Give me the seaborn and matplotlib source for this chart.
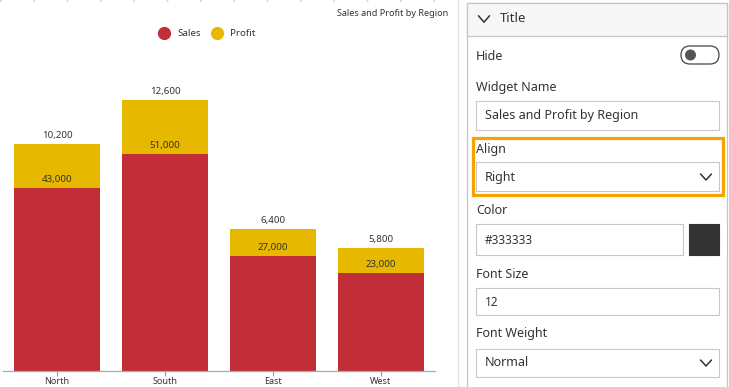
import numpy as np
import pandas as pd
import matplotlib.pyplot as plt
import matplotlib.patches as mpatches
from matplotlib.lines import Line2D
import seaborn as sns

# chart data
regions = ['North', 'South', 'East', 'West']
sales = [43000, 51000, 27000, 23000]
profit = [10200, 12600, 6400, 5800]

# settings panel texts
panel_title = 'Title'
widget_name = 'Sales and Profit by Region'
align_value = 'Right'
color_value = '#333333'
font_size_value = '12'
font_weight_value = 'Normal'

RED = '#C22E37'
YELLOW = '#E6B800'
TXT = '#333333'

sns.set_theme(style='white')
plt.rcParams['font.family'] = ['Noto Sans', 'DejaVu Sans']

df = pd.DataFrame({'region': regions, 'sales': sales, 'profit': profit})
df['total'] = df['sales'] + df['profit']

W, H = 729, 387
fig = plt.figure(figsize=(W / 100, H / 100), dpi=100)
fig.patch.set_facecolor('white')


def px(x0, y0, x1, y1):
    # pixel box (top-left origin) -> figure fraction rect
    return [x0 / W, 1 - y1 / H, (x1 - x0) / W, (y1 - y0) / H]


# --- chart ---
ax = fig.add_axes(px(3, 60, 435, 371))
sns.barplot(data=df, x='region', y='total', color=YELLOW, saturation=1,
            width=0.8, errorbar=None, linewidth=0, ax=ax)
sns.barplot(data=df, x='region', y='sales', color=RED, saturation=1,
            width=0.8, errorbar=None, linewidth=0, ax=ax)
ax.set_xlim(-0.5, 3.5)
ax.set_ylim(0, 73000)
ax.set_xlabel('')
ax.set_ylabel('')
ax.set_yticks([])
for s in ['top', 'left', 'right']:
    ax.spines[s].set_visible(False)
ax.spines['bottom'].set_color('#aaaaaa')
ax.spines['bottom'].set_linewidth(0.9)
ax.tick_params(axis='x', bottom=True, length=3.5, width=0.8, color='#999999',
               labelsize=6.5, labelcolor=TXT, pad=0.5)
ax.patch.set_alpha(0)

ax.bar_label(ax.containers[0], labels=[f'{v:,}' for v in profit],
             padding=3, fontsize=7, color=TXT)
ax.bar_label(ax.containers[1], labels=[f'{v:,}' for v in sales],
             padding=3, fontsize=7, color=TXT)

handles = [Line2D([], [], marker='o', ls='', color=RED, markersize=8.5),
           Line2D([], [], marker='o', ls='', color=YELLOW, markersize=8.5)]
fig.legend(handles, ['Sales', 'Profit'], loc='center',
           bbox_to_anchor=(205 / W, 1 - 34 / H), ncol=2, frameon=False,
           fontsize=7, handletextpad=0.4, columnspacing=0.6,
           labelcolor=TXT)

fig.text(448 / W, 1 - 14 / H, widget_name, ha='right', va='center',
         fontsize=6.5, color=TXT)

# --- overlay for frame pieces and settings panel ---
ov = fig.add_axes([0, 0, 1, 1], zorder=-1)
ov.set_xlim(0, W)
ov.set_ylim(H, 0)
ov.axis('off')

# dotted top edge and chart border
ov.plot([0, 455], [0.8, 0.8], color='#d0d0d0', lw=1.2, ls=(0, (1, 19)))
ov.plot([458, 458], [0, H], color='#e3e3e3', lw=1)


def box(x0, y0, x1, y1, ec='#c8c8c8', fc='white', lw=0.8, z=2):
    ov.add_patch(mpatches.Rectangle((x0, y0), x1 - x0, y1 - y0, fc=fc,
                                    ec=ec, lw=lw, zorder=z))


def chevron(cx, cy, w=6, h=3.5, lw=1.1):
    ov.plot([cx - w, cx, cx + w], [cy - h, cy + h, cy - h], color=TXT,
            lw=lw, zorder=5, solid_capstyle='round')


def label(x, y, s, size=9):
    ov.text(x, y, s, ha='left', va='center', fontsize=size, color=TXT,
            zorder=6)


# panel outline and header
box(467, 3, 727, 392, ec='#c4c4c4', lw=0.9, z=1)
box(467, 3, 727, 36, ec='#c4c4c4', fc='#f7f7f7', lw=0.9, z=2)
chevron(484, 19, w=5.5, h=3.2)
label(500, 19, panel_title, size=9.5)

label(476, 57, 'Hide')
ov.add_patch(mpatches.FancyBboxPatch((681, 46), 38, 18,
                                     boxstyle='round,pad=0,rounding_size=9',
                                     fc='white', ec='#444444', lw=0.9,
                                     zorder=3))
ov.add_patch(mpatches.Circle((690.5, 55), 5.5, fc='#555555', ec='none',
                             zorder=4))

label(476, 88, 'Widget Name')
box(476, 101, 719, 130)
label(485, 116, widget_name)

ov.add_patch(mpatches.Rectangle((473, 138), 250, 57, fc='none',
                                ec='#F4A300', lw=2.3, zorder=7))
label(476, 149, 'Align')
box(476, 162, 719, 191)
label(485, 177, align_value)
chevron(706, 177, w=5.5, h=3)

label(476, 211, 'Color')
box(476, 224, 683, 255)
label(485, 240, color_value, size=8.5)
box(689, 224, 719, 255, ec='#333333', fc='#333333')

label(476, 274, 'Font Size')
box(476, 288, 719, 315)
label(485, 302, font_size_value, size=8.5)

label(476, 334, 'Font Weight')
box(476, 349, 719, 377)
label(485, 363, font_weight_value)
chevron(706, 363, w=5.5, h=3)

fig.savefig('out.png', dpi=100)
